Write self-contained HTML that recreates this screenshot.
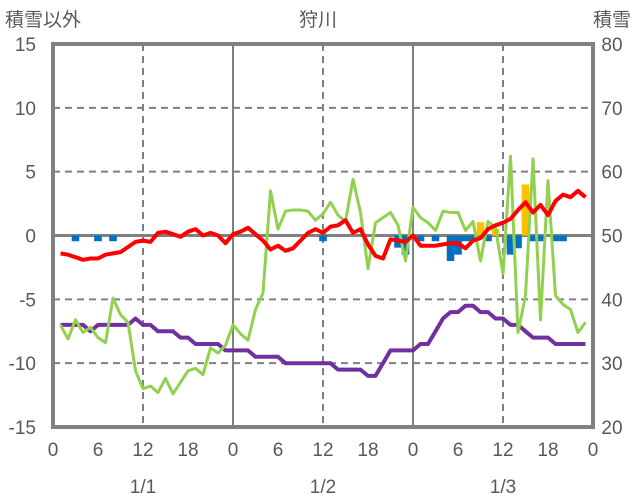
<!DOCTYPE html>
<html><head><meta charset="utf-8"><style>
html,body{margin:0;padding:0;background:#fff;}
svg{display:block;font-family:"Liberation Sans","Noto Sans CJK JP",sans-serif;}
</style></head><body>
<svg id="chart" width="636" height="501" viewBox="0 0 636 501" xmlns="http://www.w3.org/2000/svg">
<g id="grid"></g>
<g id="bars"></g>
<g id="lines"></g>
<g id="axes"></g>
<text x="5" y="26" font-size="19" fill="#595959">積雪以外</text>
<text x="318" y="26" font-size="19" fill="#595959" text-anchor="middle">狩川</text>
<text x="631" y="26" font-size="19" fill="#595959" text-anchor="end">積雪</text>
</svg>
<script>
const hours = [];for(let i=1;i<=71;i++)hours.push(i);
const redSeries = [-1.4,-1.5,-1.7,-1.9,-1.8,-1.8,-1.5,-1.4,-1.3,-0.9,-0.5,-0.4,-0.5,0.2,0.3,0.1,-0.1,0.3,0.5,0.0,0.2,0.0,-0.6,0.1,0.3,0.6,0.1,-0.4,-1.1,-0.8,-1.2,-1.0,-0.4,0.2,0.5,0.2,0.7,0.8,1.2,0.2,0.5,-0.7,-1.6,-1.8,-0.3,-0.4,-0.5,0.0,-0.8,-0.8,-0.8,-0.7,-0.6,-0.6,-1.0,-0.4,-0.2,0.5,0.8,1.0,1.3,2.0,2.6,1.8,2.4,1.6,2.7,3.2,3.0,3.5,3.0];
const greenSeries = [-7.0,-8.1,-6.6,-7.6,-7.2,-8.0,-8.4,-4.9,-6.2,-6.8,-10.6,-12.0,-11.8,-12.3,-11.2,-12.4,-11.5,-10.6,-10.4,-10.9,-8.8,-9.2,-8.6,-7.0,-7.7,-8.2,-5.8,-4.5,3.5,0.5,1.9,2.0,2.0,1.9,1.2,1.7,2.6,1.6,1.1,4.4,1.8,-2.6,1.0,1.4,1.8,0.8,-2.0,2.2,1.4,1.0,0.4,1.9,1.8,1.8,0.4,1.1,-2.0,1.1,0.6,-3.0,6.2,-7.6,-4.7,6.0,-6.6,4.3,-4.7,-5.4,-5.8,-7.6,-6.8];
const snowDepth = [36,36,36,36,35,36,36,36,36,36,37,36,36,35,35,35,34,34,33,33,33,33,32,32,32,32,31,31,31,31,30,30,30,30,30,30,30,29,29,29,29,28,28,30,32,32,32,32,33,33,35,37,38,38,39,39,38,38,37,37,36,36,35,34,34,34,33,33,33,33,33];
const blueHours = [3,6,8,36,46,47,49,51,53,54,55,56,58,61,62,64,65,67,68];
const blueValues = [-0.45,-0.45,-0.45,-0.45,-0.95,-1.5,-0.45,-0.45,-2.0,-1.5,-0.45,-0.45,-0.45,-1.5,-1.0,-0.45,-0.45,-0.45,-0.45];
const orangeHours = [57,59,63];
const orangeValues = [1.05,0.5,4.0];
const leftTicks = [15,10,5,0,-5,-10,-15];
const rightTicks = [80,70,60,50,40,30,20];
const xTicks = [0,6,12,18,0,6,12,18,0,6,12,18,0];
const dateLabels = ['1/1','1/2','1/3'];

const NS='http://www.w3.org/2000/svg';
const L=53,R=593,T=44,B=427;
const xs=h=>L+(R-L)*h/72;
const yl=v=>T+(15-v)*(B-T)/30;
const yr=v=>T+(80-v)*(B-T)/60;
function mk(tag,attrs,parent){const e=document.createElementNS(NS,tag);for(const k in attrs)e.setAttribute(k,attrs[k]);parent.appendChild(e);return e;}
const grid=document.getElementById('grid'),bars=document.getElementById('bars'),lines=document.getElementById('lines'),axes=document.getElementById('axes');
// horizontal grid
leftTicks.forEach(v=>{if(v===15||v===-15)return;
  const ln=mk('line',{x1:L,x2:R,y1:yl(v),y2:yl(v),stroke:'#808080','stroke-width':v===0?3:2,'stroke-dasharray':v===0?'none':'7,5'},grid);
  
  });
// vertical grid
[12,24,36,48,60].forEach(h=>{
  const ln=mk('line',{x1:xs(h),x2:xs(h),y1:T,y2:B,stroke:'#808080','stroke-width':2,'stroke-dasharray':h%24===0?'none':'7,5'},grid);
  
  });
// bars
blueHours.forEach((h,i)=>{const v=blueValues[i];
  const r=mk('rect',{x:xs(h)-3.8,width:7.6,y:yl(0),height:yl(v)-yl(0),fill:'#0070C0'},bars);
  
  });
orangeHours.forEach((h,i)=>{const v=orangeValues[i];
  const r=mk('rect',{x:xs(h)-3.8,width:7.6,y:yl(v),height:yl(0)-yl(v),fill:'#FFC000'},bars);
  
  });
function poly(vals,fy,color,w,name){
  const pts=vals.map((v,i)=>xs(hours[i]).toFixed(1)+','+fy(v).toFixed(1)).join(' ');
  const p=mk('polyline',{points:pts,fill:'none',stroke:color,'stroke-width':w,'stroke-linejoin':'round'},lines);
  
  }
poly(snowDepth,yr,'#7030A0',4,'snow-depth-line');
poly(greenSeries,yl,'#92D050',3,'green-series-line');
poly(redSeries,yl,'#FF0000',4,'red-series-line');
// frame
const fr=mk('rect',{x:L,y:T,width:R-L,height:B-T,fill:'none',stroke:'#808080','stroke-width':4},axes);


leftTicks.forEach(v=>{const t=mk('text',{x:36,y:yl(v)+7,'font-size':19,fill:'#595959','text-anchor':'end'},axes);t.textContent=v;
  
  });
rightTicks.forEach(v=>{const t=mk('text',{x:612,y:yr(v)+7,'font-size':19,fill:'#595959','text-anchor':'middle'},axes);t.textContent=v;
  
  });
xTicks.forEach((v,i)=>{const t=mk('text',{x:xs(i*6),y:456,'font-size':19,fill:'#595959','text-anchor':'middle'},axes);t.textContent=v;
  
  });
dateLabels.forEach((d,i)=>{const t=mk('text',{x:xs(12+24*i),y:493,'font-size':19,fill:'#595959','text-anchor':'middle'},axes);t.textContent=d;
  
  });
</script>
</body></html>
